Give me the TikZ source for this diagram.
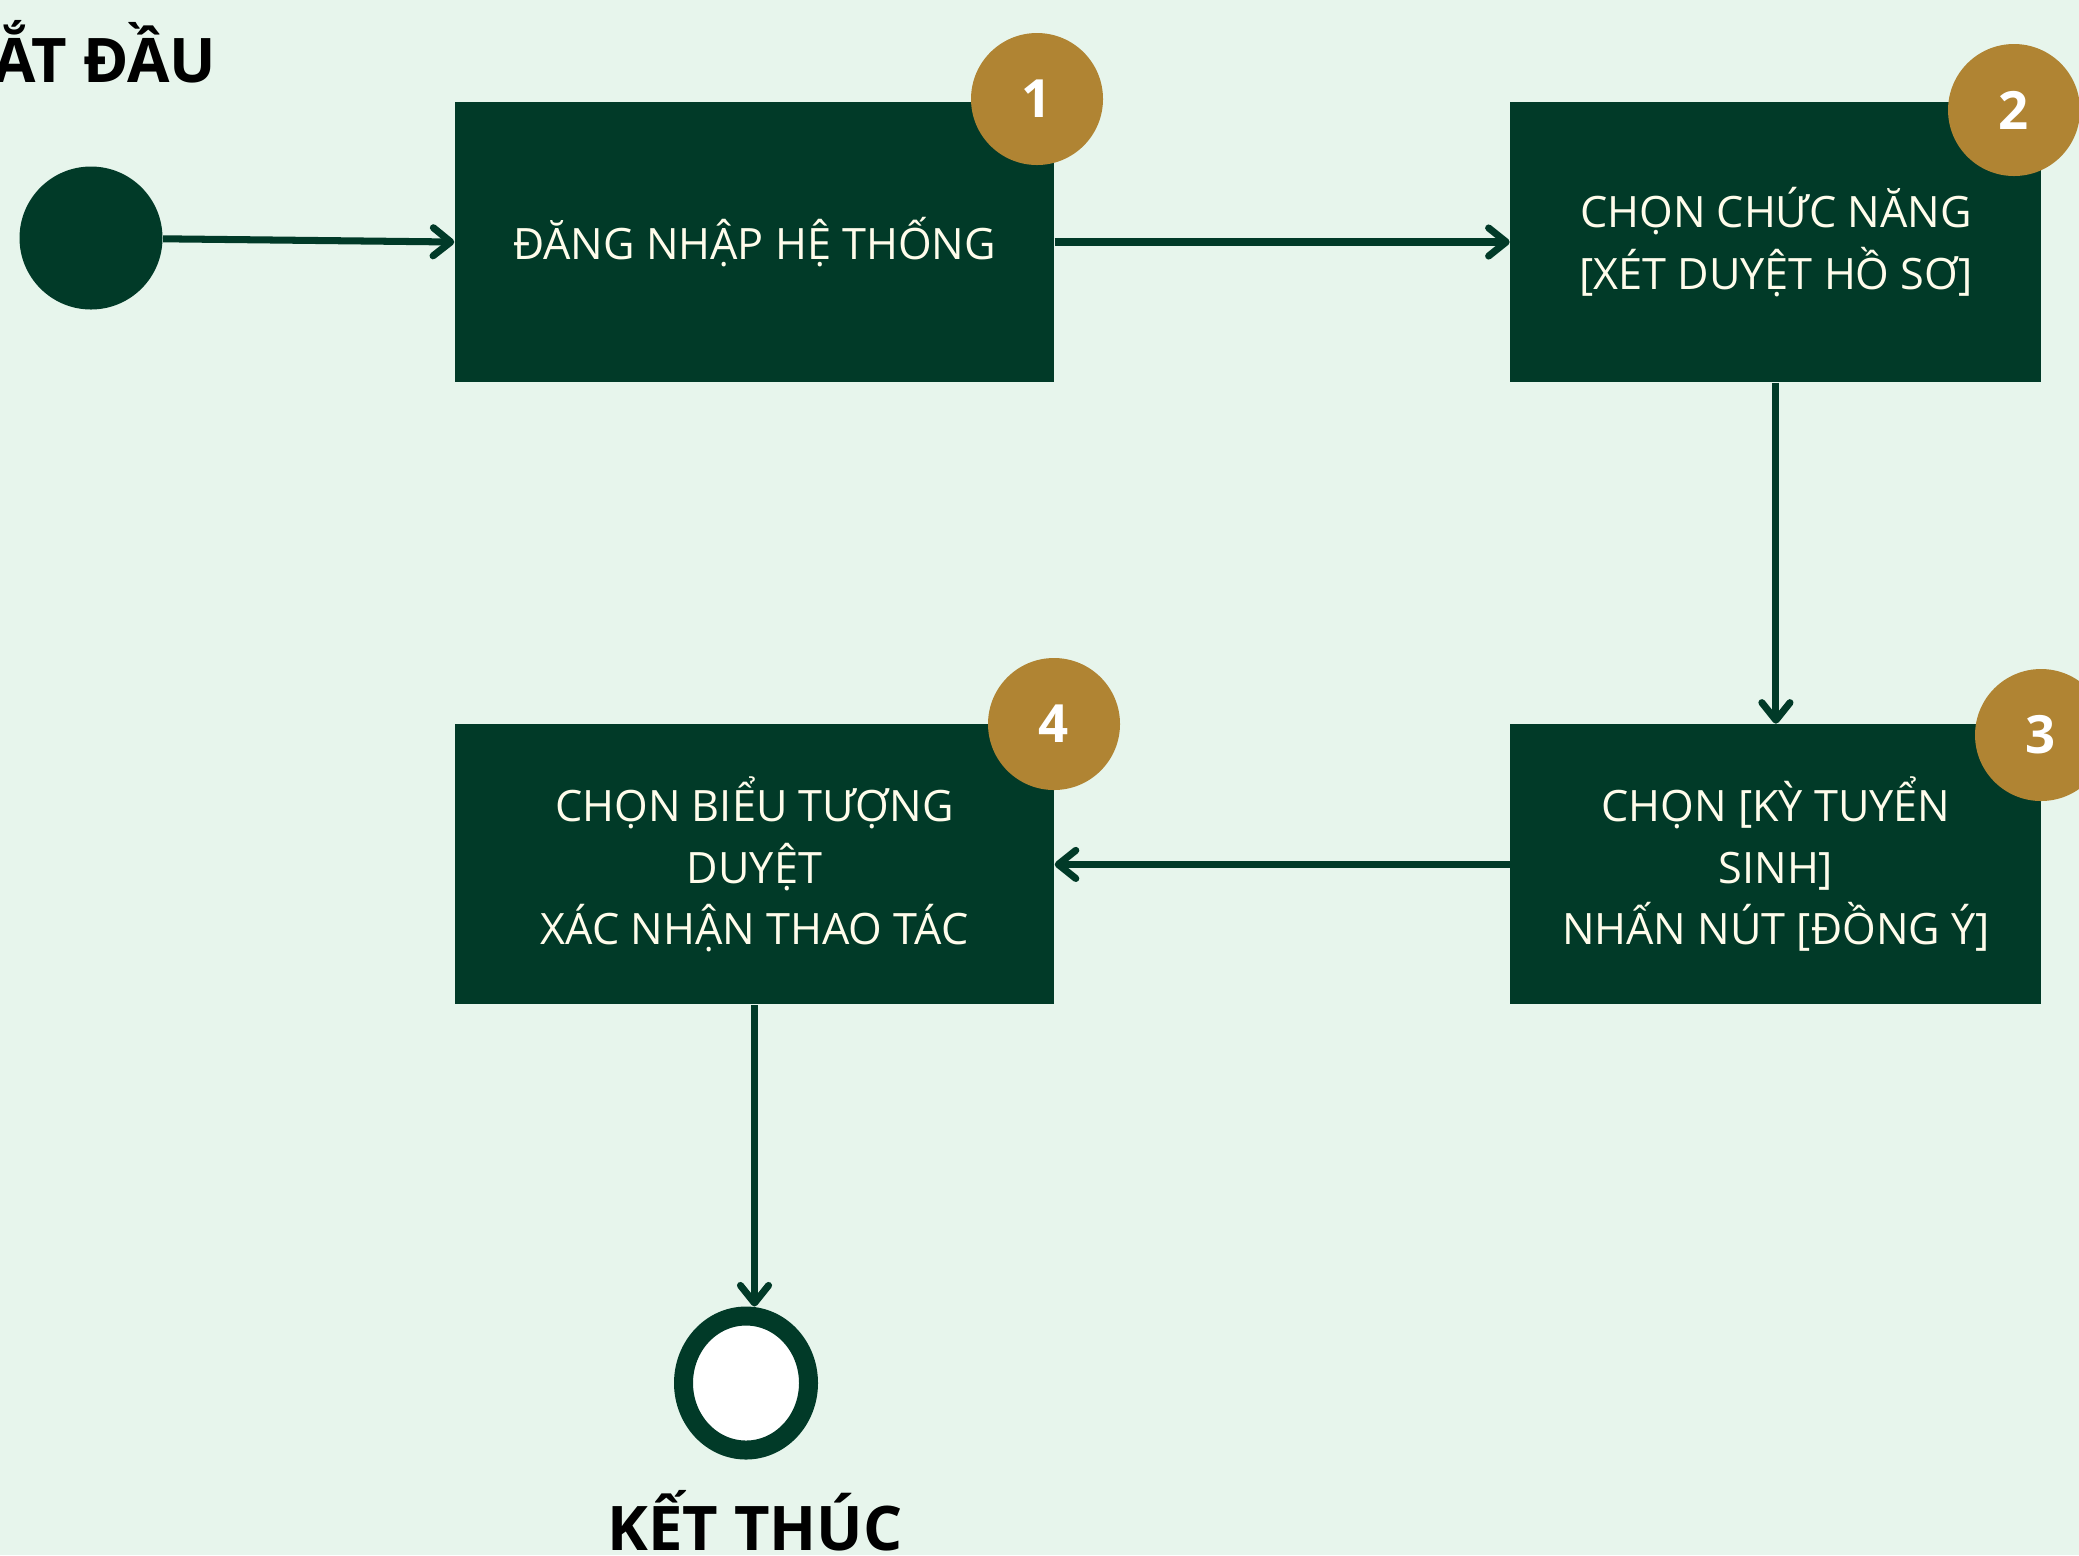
\documentclass[tikz,border=0pt]{standalone}
\usepackage{fontspec}
\setmainfont{Open Sans}
\usepackage{tikz}
\usetikzlibrary{positioning,arrows.meta}
\usetikzlibrary{shapes.geometric}

\definecolor{mintbg}{HTML}{E7F5EC}
\definecolor{darkgreen}{HTML}{013A28}
\definecolor{gold}{HTML}{B08433}
\definecolor{cream}{HTML}{FFFCEB}

\begin{document}
\begin{tikzpicture}[
  stepbox/.style={fill=darkgreen, text=cream, align=center, inner sep=0pt, minimum height=2.8cm,
    font=\fontsize{12.3}{17.5}\selectfont},
  badge/.style={circle, fill=gold, text=white, minimum size=1.32cm, inner sep=0pt,
    font=\bfseries\fontsize{15}{15}\selectfont},
  heading/.style={inner sep=0pt, font=\bfseries\fontsize{17.5}{17.5}\selectfont},
  flow/.style={draw=darkgreen, line width=2pt, -{Straight Barb[length=5pt,width=8pt,round]}}
]
  \useasboundingbox[fill=mintbg] (0,0) rectangle (20.79,-15.55);
  \node[stepbox, minimum width=5.99cm] (login) at (7.545,-2.42) {ĐĂNG NHẬP HỆ THỐNG};
  \node[stepbox, minimum width=5.31cm, right=4.55cm of login] (menu) {CHỌN CHỨC NĂNG\\{[}XÉT DUYỆT HỒ SƠ]};
  \node[stepbox, minimum width=5.31cm, below=3.41cm of menu] (period) {CHỌN [KỲ TUYỂN\\SINH]\\NHẤN NÚT [ĐỒNG Ý]};
  \node[stepbox, minimum width=5.99cm, left=4.55cm of period] (approve) {CHỌN BIỂU TƯỢNG\\DUYỆT\\XÁC NHẬN THAO TÁC};
  \node[badge] (b1) at (10.37,-0.99) {1};
  \node[badge] (b2) at (20.14,-1.10) {2};
  \node[badge] (b3) at (20.41,-7.35) {3};
  \node[badge] (b4) at (10.54,-7.24) {4};
  \node[circle, fill=darkgreen, minimum size=1.43cm, inner sep=0pt] (start) at (0.91,-2.38) {};
  \node[ellipse, draw=darkgreen, line width=0.19cm, fill=white, minimum width=1.25cm,
    minimum height=1.34cm, inner sep=0pt] (fin) at (7.46,-13.83) {};
  \node[heading, anchor=base east] (begintext) at (2.17,-0.82) {BẮT ĐẦU};
  \node[heading, anchor=base] (endtext) at (7.55,-15.50) {KẾT THÚC};
  \coordinate (finin) at (approve.south |- fin.north);
  \path[flow]
  (start) edge (login.west)
  (login) edge (menu)
  (menu) edge (period)
  (period) edge (approve)
  (approve) edge (finin);
\end{tikzpicture}
\end{document}
